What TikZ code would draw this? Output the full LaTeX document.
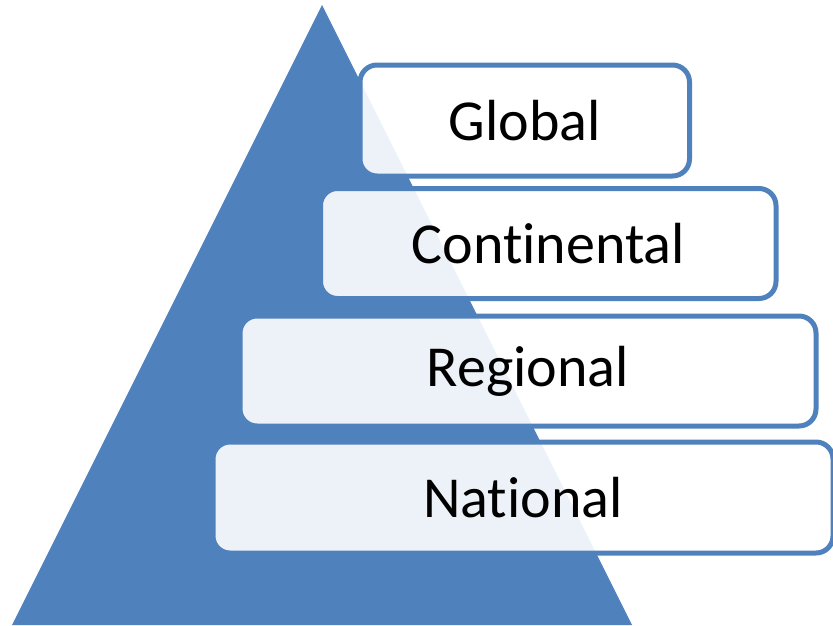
\documentclass[tikz,border=0pt]{standalone}
\usepackage{fontspec}
\setmainfont{Carlito}[Ligatures=NoCommon]
\usepackage{xcolor}
\usepackage{tikz}
\usetikzlibrary{positioning}

\definecolor{pyrblue}{RGB}{79,129,189}

\tikzset{
  level/.style={draw=pyrblue, line width=5pt, fill=white, fill opacity=0.9,
    text opacity=1, rounded corners=17pt, inner sep=0pt,
    font=\fontsize{58}{64}\selectfont}
}

\begin{document}
\begin{tikzpicture}[x=1pt,y=-1pt]
  \useasboundingbox (0,0) rectangle (833,625);
  \clip (0,0) rectangle (833,625);
  % the pyramid
  \fill[pyrblue] (322,5) -- (12,625) -- (632,625) -- cycle;
  % the levels, top to bottom
  \node[level, minimum width=329.5, minimum height=111] (global) at (524.75,120.5) {Global};
  \node[level, minimum width=455.5, minimum height=110] (continental) at (548.25,243.5) {Continental};
  \node[level, minimum width=576, minimum height=110] (regional) at (528,371) {Regional};
  \node[level, minimum width=620, minimum height=111] (national) at (523,497.5) {National};
\end{tikzpicture}
\end{document}
